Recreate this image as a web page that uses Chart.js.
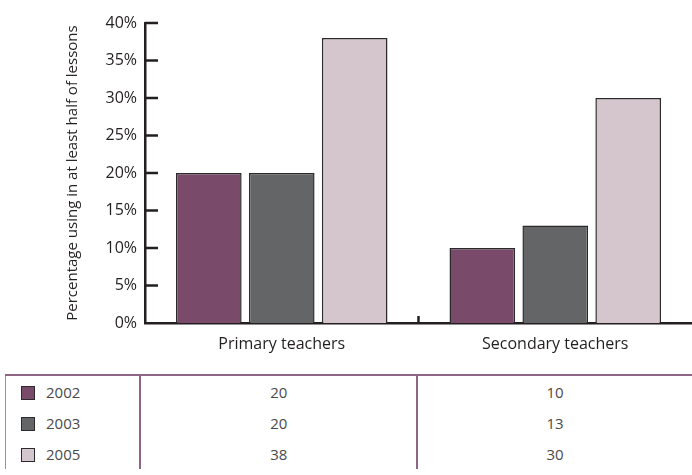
<!DOCTYPE html>
<html>
<head>
<meta charset="utf-8">
<script src="https://cdn.jsdelivr.net/npm/chart.js@4"></script>
<style>
  body { margin: 0; background: #fff; width: 692px; height: 475px; overflow: hidden; position: relative; font-family: "Open Sans", sans-serif; }
  #wrap { position: absolute; left: 0; top: 0; width: 692px; height: 365px; }
  #dataTable { position: absolute; left: 5px; top: 374px; border-collapse: collapse; font-size: 15px; color: #4a4a4a; }
  #dataTable td { height: 31px; padding: 0; border-top: 2px solid #8e6585; }
  #dataTable tr + tr td { border-top: none; }
  #dataTable td.lab { width: 135px; border-left: 1px solid #a58a9e; border-right: 2px solid #8e6585; padding-left: 15px; box-sizing: border-box; }
  #dataTable td.val { text-align: center; }
  #dataTable td.c1 { width: 275px; border-right: 2px solid #8e6585; }
  #dataTable td.c2 { width: 274px; }
  .sw { display: inline-block; width: 12px; height: 12px; border: 1.5px solid #2b2b2b; vertical-align: -2px; margin-right: 11px; }
</style>
</head>
<body>
<div id="wrap"><canvas id="chart" width="692" height="365"></canvas></div>
<table id="dataTable"></table>
<script>
var categories = ['Primary teachers', 'Secondary teachers'];
var years = ['2002', '2003', '2005'];
var values2002 = [20, 10];
var values2003 = [20, 13];
var values2005 = [38, 30];
var yTicks = [0, 5, 10, 15, 20, 25, 30, 35, 40];
var colors = ['#7a4a6b', '#646566', '#d5c5cc'];

var series = [values2002, values2003, values2005];
var ink = '#231f20';

// table under the chart, built from the same arrays
var table = document.getElementById('dataTable');
for (var i = 0; i < years.length; i++) {
  var tr = document.createElement('tr');
  var td = document.createElement('td');
  td.className = 'lab';
  td.innerHTML = '<span class="sw" style="background:' + colors[i] + '"></span>' + years[i];
  tr.appendChild(td);
  for (var j = 0; j < categories.length; j++) {
    var c = document.createElement('td');
    c.className = 'val c' + (j + 1);
    c.textContent = series[i][j];
    tr.appendChild(c);
  }
  table.appendChild(tr);
}

// inner tick marks: y ticks point right, category divider points up
var innerTicks = {
  id: 'innerTicks',
  afterDatasetsDraw: function(chart) {
    var ctx = chart.ctx, area = chart.chartArea;
    var y = chart.scales.y, x = chart.scales.x;
    ctx.save();
    ctx.strokeStyle = ink;
    ctx.lineWidth = 2.5;
    yTicks.forEach(function(v) {
      if (v === 0) return;
      var py = y.getPixelForValue(v);
      ctx.beginPath();
      ctx.moveTo(area.left, py);
      ctx.lineTo(area.left + 13, py);
      ctx.stroke();
    });
    for (var k = 1; k < categories.length; k++) {
      var px = (x.getPixelForValue(k - 1) + x.getPixelForValue(k)) / 2;
      ctx.beginPath();
      ctx.moveTo(px, area.bottom);
      ctx.lineTo(px, area.bottom - 7);
      ctx.stroke();
    }
    ctx.restore();
  }
};

var datasets = [];
for (var s = 0; s < years.length; s++) {
  datasets.push({
    label: years[s],
    data: series[s],
    backgroundColor: colors[s],
    borderColor: '#2b2b2b',
    borderWidth: 1.5,
    barPercentage: 0.9,
    categoryPercentage: 0.8
  });
}

new Chart(document.getElementById('chart'), {
  type: 'bar',
  data: { labels: categories, datasets: datasets },
  plugins: [innerTicks],
  options: {
    responsive: false,
    animation: false,
    layout: { padding: { top: 23, right: 0, bottom: 0, left: 0 } },
    plugins: { legend: { display: false }, tooltip: { enabled: false } },
    scales: {
      x: {
        grid: { display: false, drawTicks: false },
        border: { display: true, color: ink, width: 2.5 },
        ticks: { padding: 12, color: ink, font: { family: 'Open Sans', size: 16 } },
        afterFit: function(scale) { scale.height = 42; }
      },
      y: {
        min: 0,
        max: 40,
        afterBuildTicks: function(scale) {
          scale.ticks = yTicks.map(function(v) { return { value: v }; });
        },
        grid: { display: false, drawTicks: false },
        border: { display: true, color: ink, width: 2.5 },
        ticks: {
          padding: 8,
          color: ink,
          font: { family: 'Open Sans', size: 16 },
          callback: function(v) { return v + '%'; }
        },
        title: {
          display: true,
          text: 'Percentage using in at least half of lessons',
          color: ink,
          font: { family: 'Open Sans', size: 15 },
          padding: { top: 64, bottom: 0 }
        },
        afterFit: function(scale) { scale.width = 145; }
      }
    }
  }
});
</script>
</body>
</html>
